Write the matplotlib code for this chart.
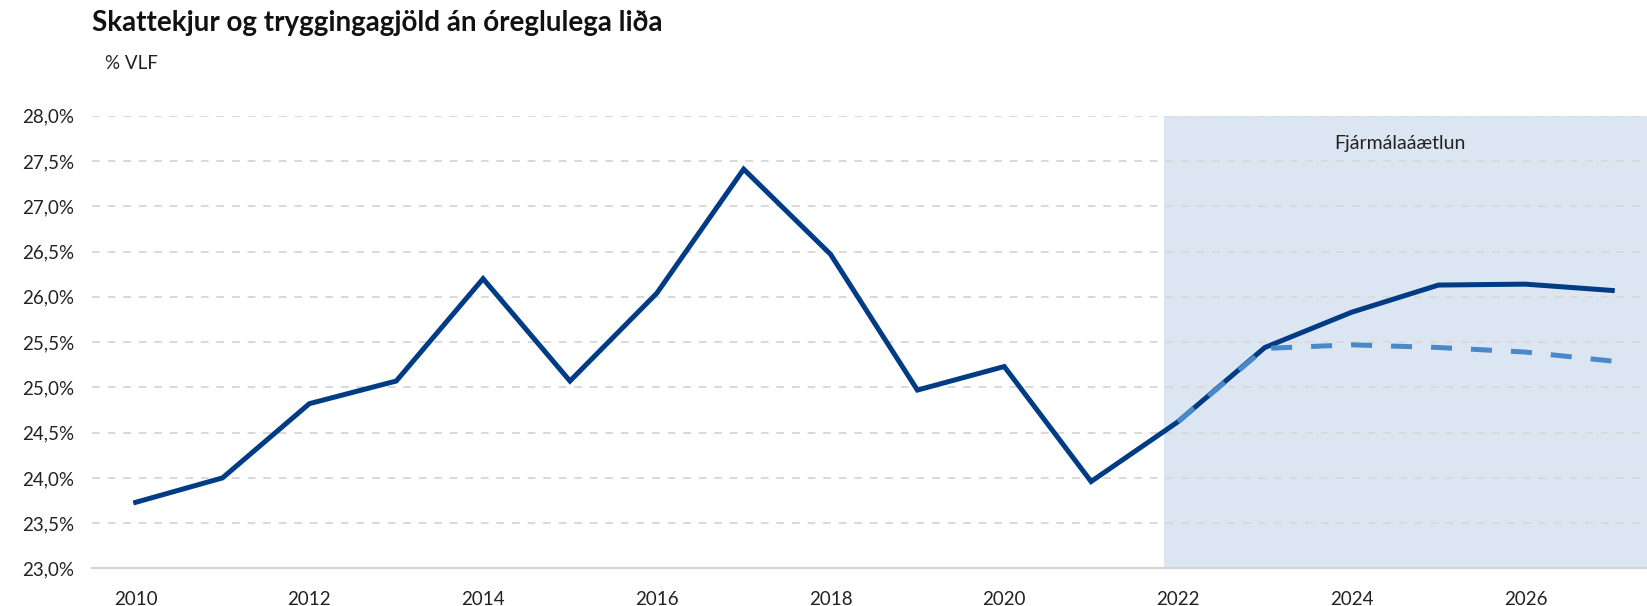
import matplotlib.pyplot as plt
from matplotlib.ticker import FuncFormatter

# Gögn lesin af myndinni
ar = list(range(2010, 2028))
skattekjur = [23.73, 24.00, 24.82, 25.07, 26.20, 25.07, 26.04, 27.41, 26.47,
              24.97, 25.23, 23.96, 24.62, 25.44, 25.83, 26.13, 26.14, 26.07]
ar_aaetlun = list(range(2022, 2028))
fyrri_aaetlun = [24.62, 25.43, 25.47, 25.44, 25.39, 25.29]
ytick_vals = [23.0, 23.5, 24.0, 24.5, 25.0, 25.5, 26.0, 26.5, 27.0, 27.5, 28.0]
xtick_vals = list(range(2010, 2027, 2))

plt.rcParams['font.family'] = ['Lato', 'DejaVu Sans']

fig = plt.figure(figsize=(16.47, 6.06), dpi=100)
ax = fig.add_axes([0.056, 0.062, 0.944, 0.747])

ax.axvspan(2021.84, 2027.4, ymin=0, ymax=1, color='#dce6f2', zorder=0, lw=0)
ax.text(2024.56, 27.69, 'Fjármálaáætlun', ha='center', va='center',
        fontsize=14, color='#222222')

ax.plot(ar, skattekjur, color='#003c85', lw=3.6, solid_joinstyle='miter', zorder=3)
ax.plot(ar_aaetlun, fyrri_aaetlun, color='#4a89c9', lw=3.6, dashes=(4.2, 3.8),
        zorder=4)

ax.set_xlim(2009.5, 2027.4)
ax.set_ylim(23.0, 28.0)
ax.set_yticks(ytick_vals)
ax.set_xticks(xtick_vals)
ax.yaxis.set_major_formatter(FuncFormatter(lambda v, p: f'{v:.1f}%'.replace('.', ',')))

for v in ytick_vals[1:]:
    ax.axhline(v, color='#d9d9d9', lw=1.4, dashes=(4, 4), zorder=1)

for s in ['top', 'right', 'left']:
    ax.spines[s].set_visible(False)
ax.spines['bottom'].set_color('#d4d4d4')
ax.spines['bottom'].set_linewidth(1.6)
ax.tick_params(axis='both', length=0, labelsize=13.5, colors='#222222')
ax.tick_params(axis='y', pad=13)
ax.tick_params(axis='x', pad=16)

fig.text(0.056, 0.962, 'Skattekjur og tryggingagjöld án óreglulega liða',
         fontsize=20, fontweight='bold', color='#111111', va='center')
fig.text(0.064, 0.896, '% VLF', fontsize=13.5, color='#222222', va='center')

fig.savefig('out.png', dpi=100)
